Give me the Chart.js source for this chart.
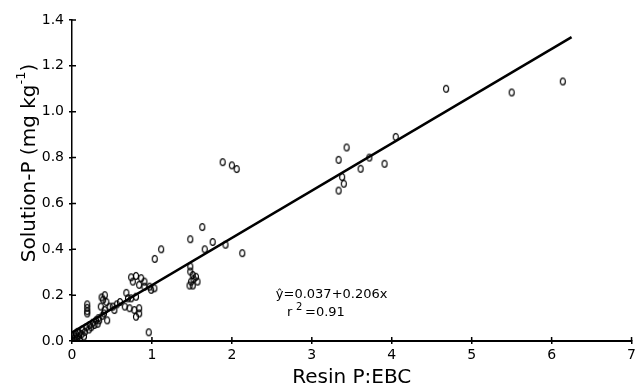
<!DOCTYPE html>
<html>
<head>
<meta charset="utf-8">
<script src="https://cdn.jsdelivr.net/npm/chart.js@4"></script>
<style>
  body { margin: 0; background: #fff; }
  #wrap { width: 639px; height: 388px; }
</style>
</head>
<body>
<div id="wrap"><canvas id="plot"></canvas></div>
<script>
// Resin P:EBC ratio (x) and solution P (y)
var resinX = [
    0.00, 0.02, 0.03, 0.04, 0.05, 0.06, 0.07, 0.08, 0.09, 0.10, 0.12, 0.13, 0.15, 0.16, 0.18,
    0.19, 0.19, 0.19, 0.19, 0.21, 0.22, 0.24, 0.26, 0.28, 0.30, 0.32, 0.33, 0.34, 0.36, 0.37,
    0.38, 0.39, 0.40, 0.41, 0.41, 0.43, 0.44, 0.47, 0.51, 0.53, 0.56, 0.60,
    0.66, 0.68, 0.70, 0.72, 0.74, 0.74, 0.76, 0.78, 0.80, 0.80, 0.80, 0.84, 0.84, 0.84, 0.865,
    0.906, 0.906, 0.97, 0.99, 1.03, 0.96, 1.035, 1.115,
    1.48, 1.48, 1.51, 1.55, 1.57, 1.49, 1.47, 1.51, 1.52, 1.48, 1.63, 1.66, 1.76, 1.92, 2.13,
    1.885, 2.00, 2.06,
    3.335, 3.435, 3.38, 3.40, 3.335, 3.61, 3.72, 3.91, 4.05, 4.68, 5.50, 6.14
];
var solutionP = [
    0.02, 0.00, 0.01, 0.02, 0.03, 0.01, 0.04, 0.02, 0.035, 0.00, 0.03, 0.05, 0.02, 0.04, 0.06,
    0.12, 0.13, 0.145, 0.16, 0.05, 0.07, 0.06, 0.08, 0.07, 0.09, 0.075, 0.10, 0.09, 0.15, 0.19,
    0.11, 0.18, 0.12, 0.20, 0.135, 0.17, 0.09, 0.15, 0.15, 0.135, 0.16, 0.17,
    0.15, 0.21, 0.186, 0.143, 0.186, 0.278, 0.259, 0.135, 0.193, 0.284, 0.106, 0.143, 0.12, 0.245, 0.274,
    0.259, 0.237, 0.237, 0.223, 0.23, 0.038, 0.358, 0.40,
    0.325, 0.303, 0.288, 0.28, 0.259, 0.259, 0.242, 0.242, 0.27, 0.444, 0.497, 0.40, 0.432, 0.42, 0.383,
    0.78, 0.766, 0.75,
    0.79, 0.844, 0.715, 0.686, 0.656, 0.751, 0.80, 0.773, 0.89, 1.10, 1.084, 1.132
];

// fitted line y = 0.037 + 0.206x, end points as drawn
var fitX = [0, 6.25];
var fitY = [0.037, 1.325];

var xTicks = [0, 1, 2, 3, 4, 5, 6, 7];
var yTicks = [0.0, 0.2, 0.4, 0.6, 0.8, 1.0, 1.2, 1.4];

var FONT = "'DejaVu Sans', sans-serif";

// small "o" marker like the typewriter symbol in the figure
var dot = document.createElement('canvas');
dot.width = 8; dot.height = 10;
var dc = dot.getContext('2d');
dc.lineWidth = 1.2;
dc.strokeStyle = '#000';
dc.beginPath();
dc.ellipse(4, 5, 2.5, 3.4, 0, 0, 2 * Math.PI);
dc.stroke();

var scatterData = resinX.map(function (x, i) { return {x: x, y: solutionP[i]}; });
var fitData = fitX.map(function (x, i) { return {x: x, y: fitY[i]}; });

// y title with superscript, inner tick marks, and the equation text
var textPlugin = {
    id: 'texts',
    afterDraw: function (chart) {
        var ctx = chart.ctx;
        var xs = chart.scales.x, ys = chart.scales.y;
        var area = chart.chartArea;

        // ticks also poke inside the axes
        ctx.save();
        ctx.strokeStyle = '#000';
        ctx.lineWidth = 1.5;
        ctx.beginPath();
        xTicks.forEach(function (v) {
            var px = xs.getPixelForValue(v);
            ctx.moveTo(px, area.bottom);
            ctx.lineTo(px, area.bottom - 4);
        });
        yTicks.forEach(function (v) {
            var py = ys.getPixelForValue(v);
            ctx.moveTo(area.left, py);
            ctx.lineTo(area.left + 4, py);
        });
        ctx.stroke();
        ctx.restore();

        ctx.save();
        ctx.fillStyle = '#000';

        // y axis title
        ctx.translate(30, 163);
        ctx.rotate(-Math.PI / 2);
        ctx.textBaseline = 'middle';
        ctx.textAlign = 'left';
        var big = '20px ' + FONT, small = '13px ' + FONT;
        ctx.font = big;
        var a = 'Solution-P (mg kg', c = ')';
        var wa = ctx.measureText(a).width, wc = ctx.measureText(c).width;
        ctx.font = small;
        var wb = ctx.measureText('-1').width;
        var x0 = -(wa + wb + wc) / 2;
        ctx.font = big;
        ctx.fillText(a, x0, 0);
        ctx.font = small;
        ctx.fillText('-1', x0 + wa, -8);
        ctx.font = big;
        ctx.fillText(c, x0 + wa + wb, 0);
        ctx.restore();

        // regression equation
        ctx.save();
        ctx.fillStyle = '#000';
        ctx.textBaseline = 'alphabetic';
        ctx.font = '13px ' + FONT;
        ctx.fillText('\u0177=0.037+0.206x', xs.getPixelForValue(2.55), ys.getPixelForValue(0.187));
        var rx = xs.getPixelForValue(2.69), ry = ys.getPixelForValue(0.107);
        ctx.fillText('r', rx, ry);
        ctx.font = '10px ' + FONT;
        ctx.fillText('2', rx + 9, ry - 6);
        ctx.font = '13px ' + FONT;
        ctx.fillText('=0.91', rx + 18, ry);
        ctx.restore();
    }
};

new Chart(document.getElementById('plot'), {
    type: 'scatter',
    data: {
        datasets: [{
            data: scatterData,
            pointStyle: dot,
            pointRadius: 4,
            showLine: false
        }, {
            type: 'line',
            data: fitData,
            borderColor: '#000',
            borderWidth: 2.5,
            pointRadius: 0,
            fill: false
        }]
    },
    options: {
        responsive: true,
        maintainAspectRatio: false,
        animation: false,
        layout: {padding: {top: 20, right: 7, left: 0, bottom: 0}},
        plugins: {legend: {display: false}, tooltip: {enabled: false}},
        scales: {
            x: {
                type: 'linear', min: 0, max: 7,
                afterBuildTicks: function (s) { s.ticks = xTicks.map(function (v) { return {value: v}; }); },
                afterFit: function (s) { s.height = 47; },
                ticks: {color: '#000', font: {family: FONT, size: 14}, padding: 3, maxRotation: 0,
                    callback: function (v) { return String(v); }},
                grid: {drawOnChartArea: false, tickLength: 3, color: '#000', lineWidth: 1.5},
                border: {color: '#000', width: 2},
                title: {display: true, text: 'Resin P:EBC', color: '#000', padding: 0,
                    font: {family: FONT, size: 20, lineHeight: 1}}
            },
            y: {
                type: 'linear', min: 0, max: 1.4,
                afterBuildTicks: function (s) { s.ticks = yTicks.map(function (v) { return {value: v}; }); },
                afterFit: function (s) { s.width = 72; },
                ticks: {color: '#000', font: {family: FONT, size: 14}, padding: 5,
                    callback: function (v) { return v.toFixed(1); }},
                grid: {drawOnChartArea: false, tickLength: 3, color: '#000', lineWidth: 1.5},
                border: {color: '#000', width: 1.5}
            }
        }
    },
    plugins: [textPlugin]
});
</script>
</body>
</html>
